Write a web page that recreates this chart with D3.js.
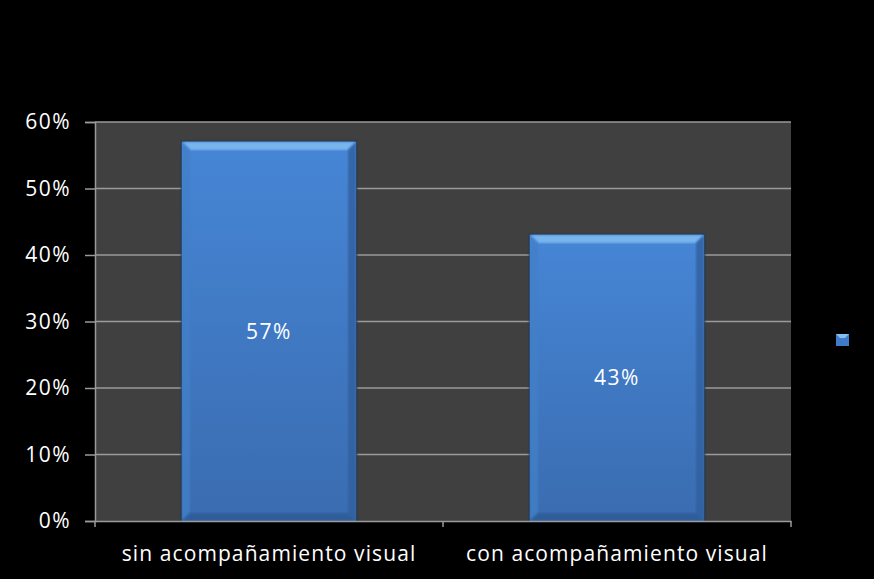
<!DOCTYPE html>
<html>
<head>
<meta charset="utf-8">
<script src="https://cdn.jsdelivr.net/npm/d3@7"></script>
<style>
  body { margin: 0; background: #000; }
  svg { display: block; }
  text { font-family: "Open Sans", "Noto Sans", sans-serif; fill: #fff; }
</style>
</head>
<body>
<script>
// chart data
var categories = ["sin acompañamiento visual", "con acompañamiento visual"];
var values = [0.57, 0.43];
var labels = ["57%", "43%"];
var yTicks = [0, 0.1, 0.2, 0.3, 0.4, 0.5, 0.6];

var W = 874, H = 579;
var margin = {top: 122, right: 83, bottom: 58, left: 95},
    width = W - margin.left - margin.right,
    height = H - margin.top - margin.bottom;

var svg = d3.select("body").append("svg")
    .attr("width", W)
    .attr("height", H);

svg.append("rect").attr("width", W).attr("height", H).attr("fill", "#000");

var defs = svg.append("defs");
var grad = defs.append("linearGradient").attr("id", "barFill")
    .attr("x1", 0).attr("y1", 0).attr("x2", 0).attr("y2", 1);
grad.append("stop").attr("offset", "0%").attr("stop-color", "#4686d6");
grad.append("stop").attr("offset", "100%").attr("stop-color", "#3a6cb0");

var blur = defs.append("filter").attr("id", "soft").attr("x", "-10%").attr("y", "-10%")
    .attr("width", "120%").attr("height", "120%");
blur.append("feGaussianBlur").attr("stdDeviation", 1.2);

var g = svg.append("g")
    .attr("transform", "translate(" + margin.left + "," + margin.top + ")");

// plot area
g.append("rect").attr("width", width).attr("height", height).attr("fill", "#404040");

var x = d3.scaleBand()
    .domain(categories)
    .range([0, width])
    .paddingInner(0.5)
    .paddingOuter(0.25);

var y = d3.scaleLinear()
    .domain([0, 0.6])
    .range([height, 0]);

// gridlines
g.selectAll(".grid")
    .data(yTicks.slice(1))
    .enter().append("line")
    .attr("x1", 0).attr("x2", width)
    .attr("y1", function(d) { return y(d); })
    .attr("y2", function(d) { return y(d); })
    .attr("stroke", "#9a9a9a")
    .attr("stroke-width", 1.5);

// bars with bevel
var bev = 8;
categories.forEach(function(c, i) {
  var x0 = x(c), bw = x.bandwidth(), y0 = y(values[i]), y1 = y(0);
  var bar = g.append("g");
  bar.append("rect")
      .attr("x", x0 - 1).attr("y", y0 - 1).attr("width", bw + 2).attr("height", y1 - y0 + 1)
      .attr("fill", "#1c3558").attr("filter", "url(#soft)");
  bar.append("rect")
      .attr("x", x0).attr("y", y0).attr("width", bw).attr("height", y1 - y0)
      .attr("fill", "url(#barFill)");
  // top bevel
  bar.append("path")
      .attr("d", "M" + x0 + "," + y0 + "L" + (x0 + bw) + "," + y0 +
                 "L" + (x0 + bw - bev) + "," + (y0 + bev) + "L" + (x0 + bev) + "," + (y0 + bev) + "Z")
      .attr("fill", "#78b4ee").attr("filter", "url(#soft)");
  // left bevel
  bar.append("path")
      .attr("d", "M" + x0 + "," + y0 + "L" + (x0 + bev) + "," + (y0 + bev) +
                 "L" + (x0 + bev) + "," + (y1 - bev) + "L" + x0 + "," + y1 + "Z")
      .attr("fill", "#4280c8").attr("opacity", 0.8).attr("filter", "url(#soft)");
  // right bevel
  bar.append("path")
      .attr("d", "M" + (x0 + bw) + "," + y0 + "L" + (x0 + bw - bev) + "," + (y0 + bev) +
                 "L" + (x0 + bw - bev) + "," + (y1 - bev) + "L" + (x0 + bw) + "," + y1 + "Z")
      .attr("fill", "#305f9e").attr("opacity", 0.8).attr("filter", "url(#soft)");
  // bottom bevel
  bar.append("path")
      .attr("d", "M" + x0 + "," + y1 + "L" + (x0 + bw) + "," + y1 +
                 "L" + (x0 + bw - bev) + "," + (y1 - bev) + "L" + (x0 + bev) + "," + (y1 - bev) + "Z")
      .attr("fill", "#2f5a94").attr("opacity", 0.8).attr("filter", "url(#soft)");

  // data label
  g.append("text")
      .attr("x", x0 + bw / 2)
      .attr("y", (y0 + y1) / 2)
      .attr("dy", "0.35em")
      .attr("text-anchor", "middle")
      .style("font-size", "21px")
      .style("letter-spacing", "1.5px")
      .text(labels[i]);
});

// y axis
var yAxis = g.append("g")
    .call(d3.axisLeft(y).tickValues(yTicks).tickFormat(d3.format(".0%")).tickSize(10).tickPadding(14));
yAxis.select(".domain").attr("stroke", "#9a9a9a").attr("stroke-width", 1.5);
yAxis.selectAll(".tick line").attr("stroke", "#9a9a9a").attr("stroke-width", 1.5);
yAxis.selectAll(".tick text").style("font-size", "21px").attr("fill", "#fff")
    .style("letter-spacing", "1.5px")
    .style("font-family", "'Open Sans', sans-serif");

// x axis
var xAxis = g.append("g")
    .attr("transform", "translate(0," + height + ")")
    .call(d3.axisBottom(x).tickSize(0).tickPadding(25));
xAxis.select(".domain").attr("stroke", "#9a9a9a").attr("stroke-width", 1.5);
xAxis.selectAll(".tick text").style("font-size", "21px").attr("fill", "#fff")
    .style("letter-spacing", "1.1px")
    .style("font-family", "'Open Sans', sans-serif");

// category separator ticks
var sepTicks = [0, width / 2, width];
g.selectAll(".sep")
    .data(sepTicks)
    .enter().append("line")
    .attr("x1", function(d) { return d; }).attr("x2", function(d) { return d; })
    .attr("y1", height).attr("y2", height + 6)
    .attr("stroke", "#9a9a9a").attr("stroke-width", 1.5);

// legend marker (no text)
var lg = svg.append("g").attr("transform", "translate(836,334)");
lg.append("rect").attr("width", 13).attr("height", 12).attr("fill", "#3f7cc8");
lg.append("path").attr("d", "M0,0L13,0L9,4L4,4Z").attr("fill", "#86bef2");
</script>
</body>
</html>
